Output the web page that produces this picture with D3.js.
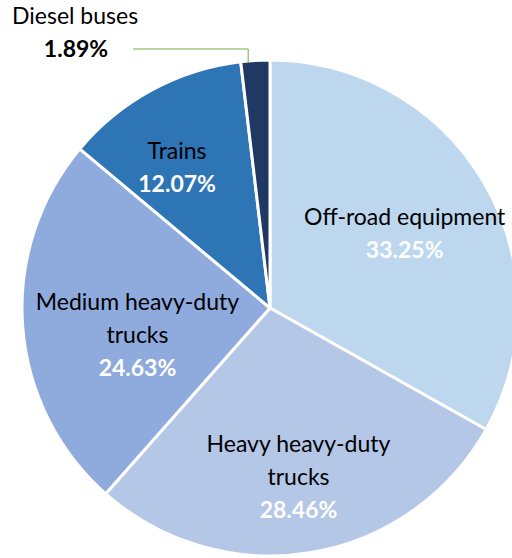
<!DOCTYPE html>
<html>
<head>
<meta charset="utf-8">
<script src="https://cdn.jsdelivr.net/npm/d3@7"></script>
<style>
  body { margin: 0; background: #fff; }
  text { font-family: Lato, "Open Sans", sans-serif; }
</style>
</head>
<body>
<div id="chart"></div>
<script>
// Data
const categories = ["Off-road equipment", "Heavy heavy-duty trucks", "Medium heavy-duty trucks", "Trains", "Diesel buses"];
const shares = [33.25, 28.46, 24.63, 12.07, 1.89];
const labelLines = [["Off-road equipment"], ["Heavy heavy-duty", "trucks"], ["Medium heavy-duty", "trucks"], ["Trains"], ["Diesel buses"]];
const colors = ["#BDD7EE", "#B4C7E7", "#8FAADC", "#2E75B6", "#203864"];

const width = 512, height = 558;
const cx = 270, cy = 308, radius = 248;

// label radius (fraction of radius) and angle nudge (deg) per slice
const labelLayout = [
  { r: 0.62, da: 1.5 },
  { r: 0.69, da: 0 },
  { r: 0.545, da: -7 },
  { r: 0.68, da: -5 },
];

const svg = d3.select("#chart").append("svg")
  .attr("width", width).attr("height", height);

const g = svg.append("g").attr("transform", "translate(" + cx + "," + cy + ")");

const pie = d3.pie().sort(null).value(d => d);
const arcs = pie(shares);
const arc = d3.arc().innerRadius(0).outerRadius(radius);

g.selectAll("path")
  .data(arcs)
  .enter()
  .append("path")
  .attr("d", arc)
  .attr("fill", (d, i) => colors[i])
  .attr("stroke", "#fff")
  .attr("stroke-width", 3)
  .attr("stroke-linejoin", "round");

const lineH = 33;
const fontSize = "23px";
const fmt = v => v.toFixed(2) + "%";

arcs.slice(0, 4).forEach((d, i) => {
  const lay = labelLayout[i];
  const a = (d.startAngle + d.endAngle) / 2 + lay.da * Math.PI / 180;
  const r = radius * lay.r;
  const x = r * Math.sin(a), y = -r * Math.cos(a);
  const lines = labelLines[i];
  const total = lines.length + 1;
  const top = y - (total - 1) * lineH / 2;
  const t = g.append("text").attr("text-anchor", "middle").style("font-size", fontSize);
  lines.forEach((ln, k) => {
    t.append("tspan").attr("x", x).attr("y", top + k * lineH + 8).attr("fill", "#000").text(ln);
  });
  t.append("tspan").attr("x", x).attr("y", top + lines.length * lineH + 8)
    .attr("fill", "#fff").style("font-weight", "bold").text(fmt(shares[i]));
});

// Diesel buses callout
const dBus = arcs[4];
const edgeA = dBus.startAngle + (dBus.endAngle - dBus.startAngle) * 0.25;
const ex = (radius - 2) * Math.sin(edgeA), ey = -(radius - 2) * Math.cos(edgeA);
const elbowY = 49 - cy;
g.append("path")
  .attr("d", "M" + (133 - cx) + "," + elbowY + "H" + ex + "V" + ey)
  .attr("fill", "none")
  .attr("stroke", "#70AD47")
  .attr("stroke-width", 1);

svg.append("text").attr("x", 12).attr("y", 24)
  .style("font-size", fontSize).attr("fill", "#000").text(labelLines[4][0]);
svg.append("text").attr("x", 76).attr("y", 57).attr("text-anchor", "middle")
  .style("font-size", fontSize).style("font-weight", "bold").attr("fill", "#000").text(fmt(shares[4]));
</script>
</body>
</html>
